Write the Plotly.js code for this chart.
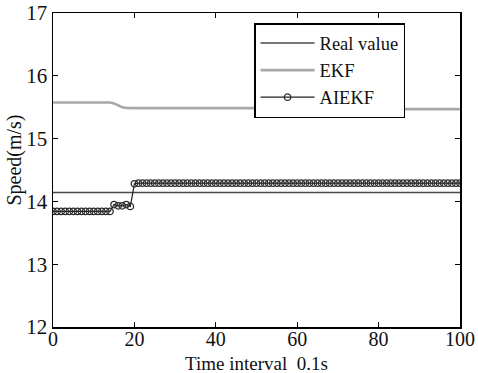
<!DOCTYPE html>
<html>
<head>
<meta charset="utf-8">
<script src="https://cdn.plot.ly/plotly-3.0.1.min.js"></script>
<style>html,body{margin:0;padding:0;background:#fff;}#chart{width:478px;height:373px;}</style>
</head>
<body>
<div id="chart"></div>
<script>
const timeSteps = [0,1,2,3,4,5,6,7,8,9,10,11,12,13,14,15,16,17,18,19,20,
  21,22,23,24,25,26,27,28,29,30,31,32,33,34,35,36,37,38,39,40,
  41,42,43,44,45,46,47,48,49,50,51,52,53,54,55,56,57,58,59,60,
  61,62,63,64,65,66,67,68,69,70,71,72,73,74,75,76,77,78,79,80,
  81,82,83,84,85,86,87,88,89,90,91,92,93,94,95,96,97,98,99,100];

const realX = [0, 100];
const realValue = [14.14, 14.14];

const ekf = [15.575,15.575,15.575,15.575,15.575,15.575,15.575,15.575,15.575,15.575,
  15.575,15.575,15.575,15.575,15.575,
  15.56,15.53,15.50,15.49,
  15.485,15.485,15.485,15.485,15.485,15.485,15.485,15.485,15.485,15.485,
  15.485,15.485,15.485,15.485,15.485,15.485,15.485,15.485,15.485,15.485,
  15.485,15.485,15.485,15.485,15.485,15.485,15.485,15.485,15.485,15.485,
  15.485,15.485,15.485,15.485,15.485,15.485,
  15.47,15.47,15.47,15.47,15.47,15.47,15.47,15.47,15.47,15.47,
  15.47,15.47,15.47,15.47,15.47,15.47,15.47,15.47,15.47,15.47,
  15.47,15.47,15.47,15.47,15.47,15.47,15.47,15.47,15.47,15.47,
  15.47,15.47,15.47,15.47,15.47,15.47,15.47,15.47,15.47,15.47,
  15.47,15.47,15.47,15.47,15.47,15.47];

const aiekf = [13.84,13.84,13.84,13.84,13.84,13.84,13.84,13.84,13.84,13.84,
  13.84,13.84,13.84,13.84,13.84,
  13.95,13.93,13.93,13.95,13.92,14.28,
  14.29,14.29,14.29,14.29,14.29,14.29,14.29,14.29,14.29,14.29,
  14.29,14.29,14.29,14.29,14.29,14.29,14.29,14.29,14.29,14.29,
  14.29,14.29,14.29,14.29,14.29,14.29,14.29,14.29,14.29,14.29,
  14.29,14.29,14.29,14.29,14.29,14.29,14.29,14.29,14.29,14.29,
  14.29,14.29,14.29,14.29,14.29,14.29,14.29,14.29,14.29,14.29,
  14.29,14.29,14.29,14.29,14.29,14.29,14.29,14.29,14.29,14.29,
  14.29,14.29,14.29,14.29,14.29,14.29,14.29,14.29,14.29,14.29,
  14.29,14.29,14.29,14.29,14.29,14.29,14.29,14.29,14.29,14.29];

const xTicks = [0,20,40,60,80,100];
const yTicks = [12,13,14,15,16,17];

const font = 'Liberation Serif, Times New Roman, serif';

const traces = [
  {x: realX, y: realValue, name: 'Real value', mode: 'lines',
   line: {color: '#4a4a4a', width: 1.5}},
  {x: timeSteps, y: ekf, name: 'EKF', mode: 'lines',
   line: {color: '#a8a8a8', width: 2.6}},
  {x: timeSteps, y: aiekf, name: 'AIEKF', mode: 'lines+markers',
   line: {color: '#222222', width: 1.2},
   marker: {symbol: 'circle-open', size: 6.5, color: '#2a2a2a', line: {width: 1.3}}}
];

const axisCommon = {
  showline: true, linecolor: '#000', linewidth: 1.5, mirror: 'ticks',
  ticks: 'inside', ticklen: 5, tickwidth: 1.2, tickcolor: '#000',
  showgrid: false, zeroline: false
};

const layout = {
  width: 478, height: 373,
  margin: {l: 53, r: 18, t: 13, b: 46},
  paper_bgcolor: '#fff', plot_bgcolor: '#fff',
  showlegend: true,
  legend: {x: 0.494, y: 0.968, xanchor: 'left', yanchor: 'top',
    bordercolor: '#000', borderwidth: 1.5, bgcolor: '#fff', itemwidth: 54,
    font: {family: font, size: 18.5, color: '#111'}},
  xaxis: Object.assign({}, axisCommon, {
    range: [0, 100], tickvals: xTicks, ticklabelstandoff: -7,
    tickfont: {family: font, size: 20, color: '#111'}
  }),
  yaxis: Object.assign({}, axisCommon, {
    range: [12, 17], tickvals: yTicks,
    tickfont: {family: font, size: 21, color: '#111'}
  }),
  annotations: [{
    text: 'Speed(m/s)', textangle: -90, xref: 'paper', yref: 'paper',
    x: 0, y: 0.53, xanchor: 'center', yanchor: 'middle', xshift: -38,
    showarrow: false, font: {family: font, size: 20, color: '#111'}
  }, {
    text: 'Time interval  0.1s', xref: 'paper', yref: 'paper',
    x: 0.5, y: 0, xanchor: 'center', yanchor: 'top', yshift: -24,
    showarrow: false, font: {family: font, size: 19, color: '#111'}
  }]
};

Plotly.newPlot('chart', traces, layout, {displayModeBar: false, staticPlot: true});
</script>
</body>
</html>
